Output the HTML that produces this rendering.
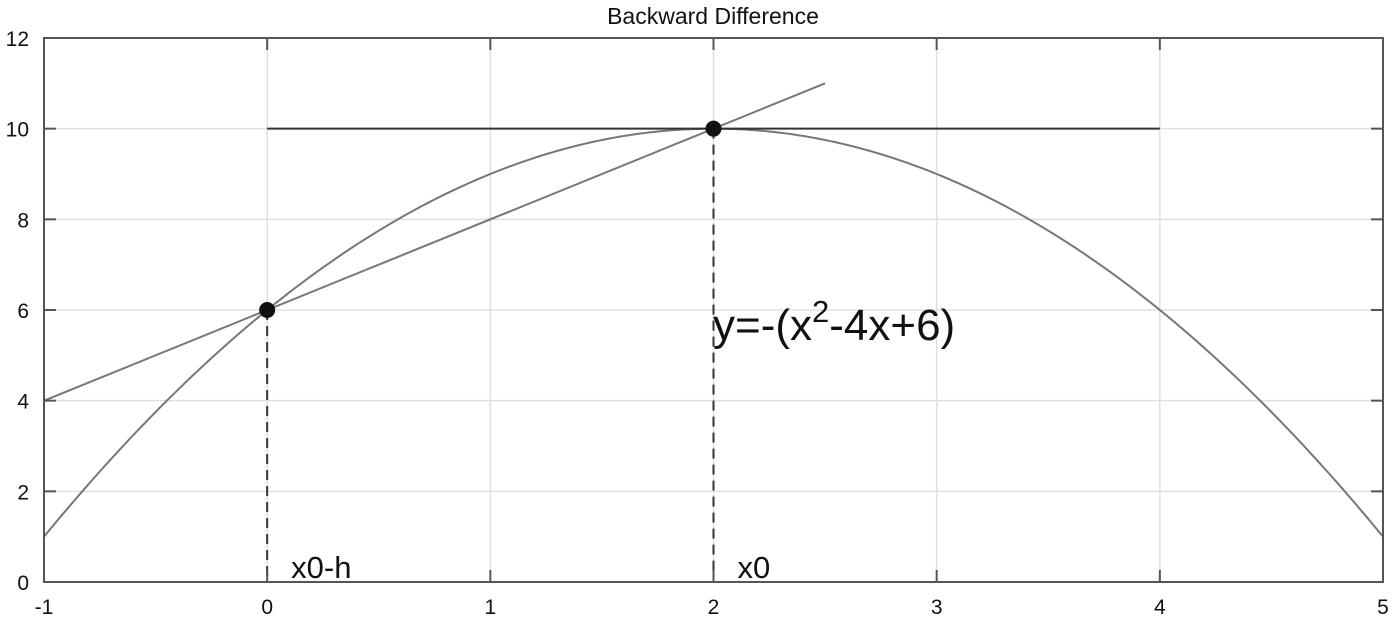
<!DOCTYPE html>
<html><head><meta charset="utf-8"><style>
body{margin:0;background:#fff;}
svg{display:block;font-family:"Liberation Sans",sans-serif;}
</style></head><body>
<svg id="chart" width="1397" height="627" viewBox="0 0 1397 627"></svg>
<script>
const xTicks=[-1,0,1,2,3,4,5];
const yTicks=[0,2,4,6,8,10,12];
const curveDomain=[-1,5];
const curveVertex=[2,10];
const tangentX=[0,4];
const tangentY=[10,10];
const secantX=[-1,2.5];
const secantY=[4,11];
const pointsX=[0,2];
const pointsY=[6,10];
const pointLabels=["x0-h","x0"];

const L=44,R=1383,T=38,B=582;
const sx=v=>L+(v-(-1))/(6)*(R-L);
const sy=v=>B-(v/12)*(B-T);
const svg=document.getElementById('chart');
const NS='http://www.w3.org/2000/svg';
function mk(tag,attrs,parent){const e=document.createElementNS(NS,tag);for(const k in attrs)e.setAttribute(k,attrs[k]);(parent||svg).appendChild(e);return e;}

xTicks.forEach(t=>{const g=mk('line',{x1:sx(t),x2:sx(t),y1:T,y2:B,stroke:'#e0e0e0','stroke-width':1.5});

});
yTicks.forEach(t=>{const g=mk('line',{x1:L,x2:R,y1:sy(t),y2:sy(t),stroke:'#e0e0e0','stroke-width':1.5});

});

let d='';
for(let i=0;i<=300;i++){const x=curveDomain[0]+(curveDomain[1]-curveDomain[0])*i/300;const y=curveVertex[1]-(x-curveVertex[0])**2;d+=(i?'L':'M')+sx(x).toFixed(2)+','+sy(y).toFixed(2);}
const c=mk('path',{d:d,fill:'none',stroke:'#777','stroke-width':2});



const tl=mk('line',{x1:sx(tangentX[0]),x2:sx(tangentX[1]),y1:sy(tangentY[0]),y2:sy(tangentY[1]),stroke:'#333','stroke-width':2});


const sl=mk('line',{x1:sx(secantX[0]),x2:sx(secantX[1]),y1:sy(secantY[0]),y2:sy(secantY[1]),stroke:'#777','stroke-width':2});



pointsX.forEach((px,i)=>{
 const dl=mk('line',{x1:sx(px),x2:sx(px),y1:sy(pointsY[i]),y2:B,stroke:'#333','stroke-width':2,'stroke-dasharray':'10,6'});
 
 
 const p=mk('circle',{cx:sx(px),cy:sy(pointsY[i]),r:8,fill:'#111'});
 
 
 const t=mk('text',{x:sx(px)+24,y:578,'font-size':31,fill:'#111'});t.textContent=pointLabels[i];
 
 
});

const f=mk('rect',{x:L,y:T,width:R-L,height:B-T,fill:'none',stroke:'#555','stroke-width':2});


xTicks.forEach(t=>{mk('line',{x1:sx(t),x2:sx(t),y1:B,y2:B-12,stroke:'#555','stroke-width':2});mk('line',{x1:sx(t),x2:sx(t),y1:T,y2:T+12,stroke:'#555','stroke-width':2});
 const l=mk('text',{x:sx(t),y:614,'font-size':21,'text-anchor':'middle',fill:'#111'});l.textContent=t;
 
 });
yTicks.forEach(t=>{mk('line',{x1:L,x2:L+12,y1:sy(t),y2:sy(t),stroke:'#555','stroke-width':2});mk('line',{x1:R,x2:R-12,y1:sy(t),y2:sy(t),stroke:'#555','stroke-width':2});
 const l=mk('text',{x:29,y:sy(t)+8,'font-size':21,'text-anchor':'end',fill:'#111'});l.textContent=t;
 
 });

const ti=mk('text',{x:713,y:24,'font-size':23,'text-anchor':'middle',fill:'#111'});ti.textContent='Backward Difference';


const eq=mk('text',{x:713,y:340,'font-size':44,fill:'#111'});
eq.innerHTML='y=-(x<tspan dy="-18" font-size="31">2</tspan><tspan dy="18">-4x+6)</tspan>';


</script>
</body></html>
